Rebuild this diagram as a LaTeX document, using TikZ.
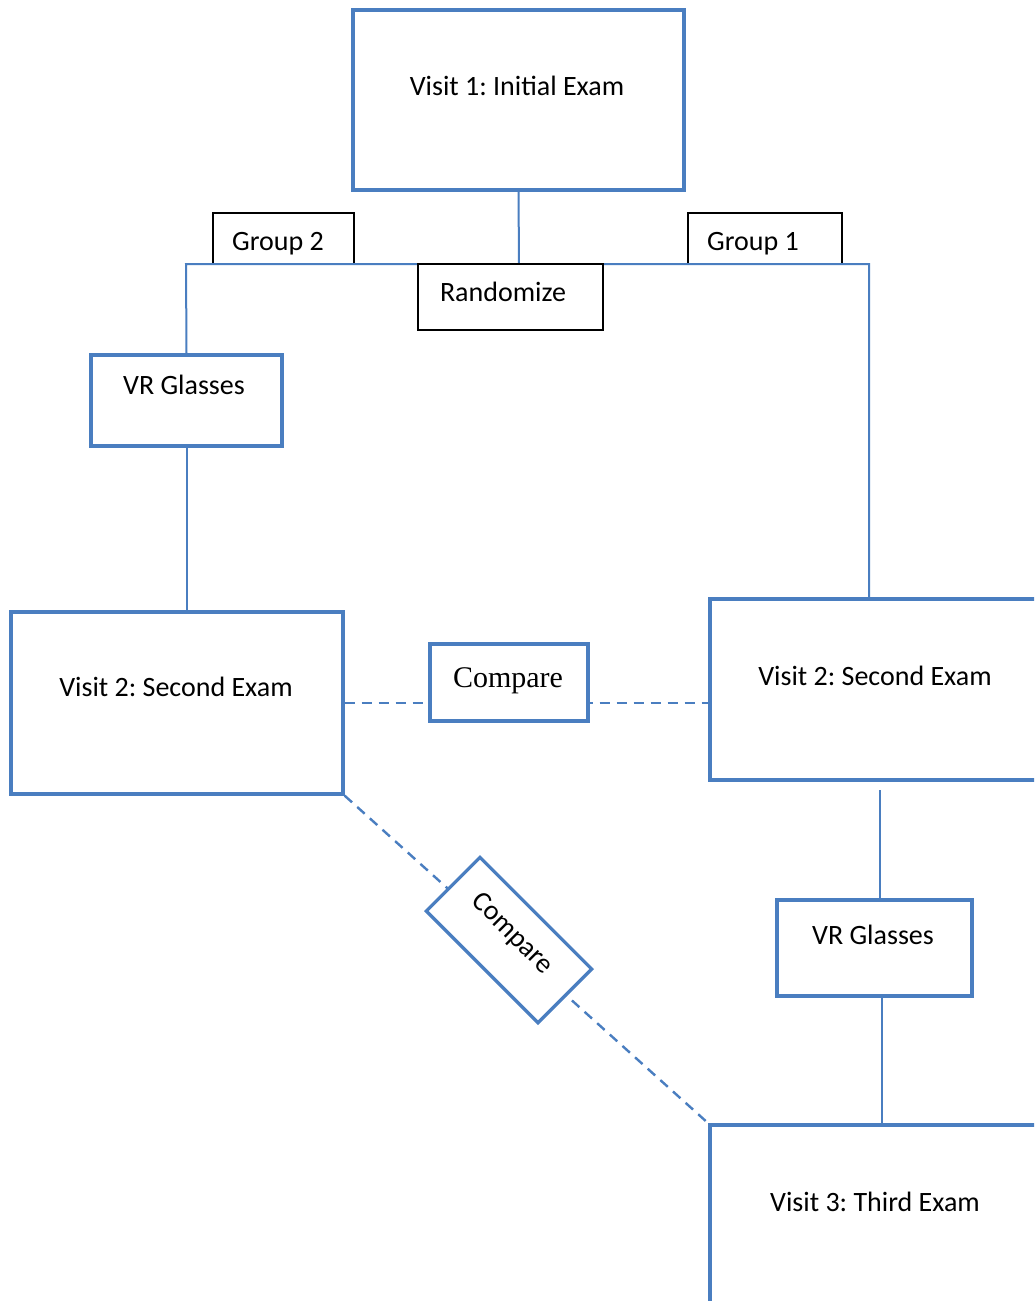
\documentclass[tikz,border=0pt]{standalone}
\usepackage{fontspec}
\setmainfont{Carlito}
\newfontfamily\cmpfont{Liberation Serif}
\frenchspacing
\definecolor{bl}{RGB}{74,126,192}
\begin{document}
\begin{tikzpicture}[x=1pt,y=-1pt,
  bluebox/.style={draw=bl,line width=3.2pt,rectangle,inner sep=0pt,fill=white},
  blackbox/.style={draw=black,line width=1.8pt,rectangle,inner sep=0pt,fill=white},
  conn/.style={draw=bl,line width=2pt},
  dconn/.style={draw=bl,line width=2.4pt,dash pattern=on 10pt off 7pt},
  lbl/.style={inner sep=0pt,anchor=base,font=\fontsize{28}{34}\selectfont},
  cmplbl/.style={inner sep=0pt,font=\cmpfont\fontsize{30}{34}\selectfont}]
\useasboundingbox (0,0) rectangle (1034,1301);
\clip (0,0) rectangle (1034,1301);
\coordinate (split) at (519,264);
\coordinate (jl) at (186,264);
\coordinate (jr) at (869,264);
\coordinate (gtop) at (880,790);
\coordinate (gbot) at (882,1125);

% boxes
\node[bluebox,minimum width=331,minimum height=180] (v1) at (518.5,100) {};
\node[blackbox,minimum width=141,minimum height=51] (g2) at (283.5,238.5) {};
\node[blackbox,minimum width=154,minimum height=51] (g1) at (765,238.5) {};
\node[bluebox,minimum width=191,minimum height=91] (vrl) at (186.5,400.5) {};
\node[bluebox,minimum width=332,minimum height=182] (v2l) at (177,703) {};
\node[bluebox,minimum width=330,minimum height=181] (v2r) at (875,689.5) {};
\node[bluebox,minimum width=195,minimum height=96] (vrr) at (874.5,948) {};
\node[bluebox,minimum width=330,minimum height=185] (v3) at (875,1217.5) {};

% connectors
\draw[conn] (v1.south) -- (split);
\draw[conn] (vrl.north) -- (jl) -- (jr) -- (jr |- v2r.north);
\draw[conn] (vrl.south) -- (vrl.south |- v2l.north);
\draw[conn] (gtop) -- (gtop |- vrr.north);
\draw[conn] (gbot |- vrr.south) -- (gbot);
\draw[dconn] (v2l.east) -- (v2r.west |- v2l.east);
\draw[dconn] (v2l.south east) -- (v3.north west);

\node[blackbox,minimum width=185,minimum height=66] (rnd) at (510.5,297) {};
\node[bluebox,minimum width=158,minimum height=77] (cmp1) at (509,682.5) {};
\node[bluebox,minimum width=158,minimum height=76,rotate=-45] (cmp2) at (509,940) {};

% labels
\node[lbl] (t1) at (517,95) {Visit 1: Initial Exam};
\node[lbl] (tg2) at (278,250) {Group 2};
\node[lbl] (tg1) at (753,250) {Group 1};
\node[lbl] (trn) at (503,301) {Randomize};
\node[lbl] (tvl) at (184,394) {VR Glasses};
\node[lbl] (t2l) at (176,696) {Visit 2: Second Exam};
\node[lbl] (t2r) at (875,685) {Visit 2: Second Exam};
\node[lbl] (tvr) at (873,944) {VR Glasses};
\node[lbl] (t3) at (875,1211) {Visit 3: Third Exam};
\node[cmplbl,anchor=base] (tc1) at (508,687) {Compare};
\node[inner sep=0pt,font=\fontsize{28}{34}\selectfont,rotate=-45] (tc2) at (512,934) {Compare};
\end{tikzpicture}
\end{document}
